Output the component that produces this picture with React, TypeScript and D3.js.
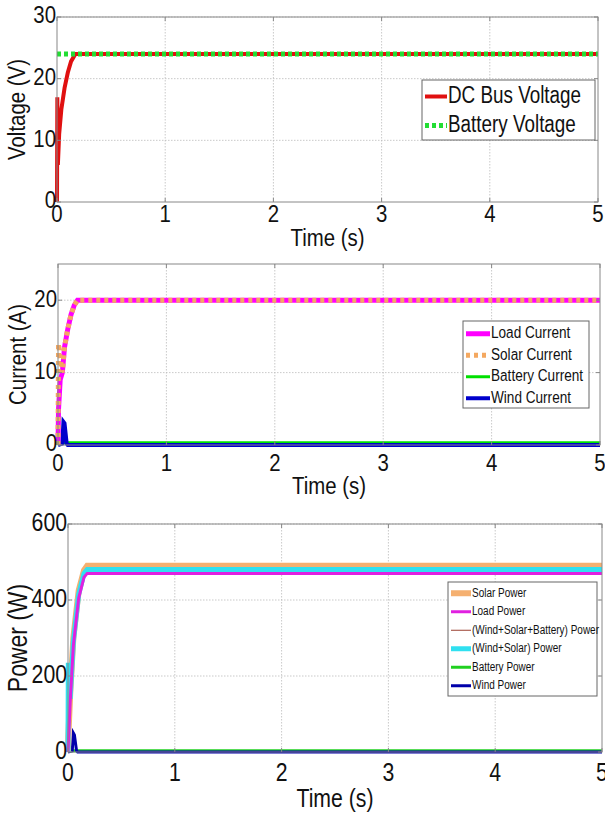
import React from "react";
import * as d3 from "d3";

// time axis ticks shared by all three panels
const timeTicks = [0, 1, 2, 3, 4, 5];

// panel 1: voltages
const voltTime = [0, 0.003, 0.008, 0.02, 0.04, 0.07, 0.1, 0.13, 0.17, 5];
const dcBusVoltage = [0, 17, 6, 11, 15, 18.5, 21, 22.8, 24, 24];
const batteryTime = [0, 5];
const batteryVoltage = [24, 24];
const voltTicks = [0, 10, 20, 30];

// panel 2: currents
const currTime = [0, 0.005, 0.02, 0.04, 0.06, 0.09, 0.12, 0.15, 0.18, 5];
const loadCurrent = [0, 5, 9, 10, 13.5, 16, 18, 19.3, 20, 20];
const solarCurrent = [0, 14, 12, 10, 13.5, 16, 18, 19.3, 20, 20];
const batteryCurrent = [0.3, 0.3, 0.3, 0.3, 0.3, 0.3, 0.3, 0.3, 0.3, 0.3];
const windTime = [0, 0.04, 0.05, 0.06, 0.08, 0.09, 5];
const windCurrent = [0, 0.2, 3.2, 3, 0.2, 0, 0];
const currTicks = [0, 10, 20];

// panel 3: powers
const powTime = [0, 0.003, 0.02, 0.05, 0.1, 0.15, 0.18, 5];
const solarPower = [0, 40, 150, 300, 425, 478, 490, 490];
const loadPower = [0, 20, 130, 280, 405, 460, 470, 470];
const totalPower = [0, 30, 145, 295, 420, 474, 485, 485];
const windSolarPower = [0, 235, 140, 290, 415, 470, 480, 480];
const batteryPower = [3, 3, 3, 3, 3, 3, 3, 3];
const windPower = [0, 3, 50, 45, 3, 0, 0];
const powTicks = [0, 200, 400, 600];

const FONT = "'Liberation Sans', Arial, sans-serif";

type Series = {
  x: number[];
  y: number[];
  color: string;
  width: number;
  dash?: string;
  label?: string;
};

// narrow text: the reference uses a condensed helvetica
const CText = ({ x, y, size, anchor = "start", sx = 0.85, rotate = 0, children }: any) => (
  <g transform={`translate(${x},${y}) rotate(${rotate}) scale(${sx},1)`}>
    <text x={0} y={0} fontSize={size} textAnchor={anchor} dominantBaseline="middle" fontFamily={FONT} fill="#111">
      {children}
    </text>
  </g>
);

type PanelProps = {
  top: number;
  bottom: number;
  left: number;
  right: number;
  yMax: number;
  yTicks: number[];
  yLabel: string;
  yLabelX: number;
  yLabelSize: number;
  series: Series[];
  legend: { x: number; y: number; w: number; h: number; fs: number; row: number; sample: number; sx: number };
  legendItems: Series[];
  tickSize: number;
  xTickY: number;
  xLabelY: number;
};

const Panel = (p: PanelProps) => {
  const x = d3.scaleLinear().domain([0, 5]).range([p.left, p.right]);
  const y = d3.scaleLinear().domain([0, p.yMax]).range([p.bottom, p.top]);
  const line = (s: Series) =>
    d3
      .line<number>()
      .x((_, i) => x(s.x[i]))
      .y((d) => y(d))(s.y) || "";
  const L = p.legend;
  return (
    <g>
      {/* grid */}
      {timeTicks.slice(1, -1).map((t) => (
        <line key={"gx" + t} x1={x(t)} x2={x(t)} y1={p.top} y2={p.bottom} stroke="#bbb" strokeWidth={0.8} strokeDasharray="1.5 1.5" />
      ))}
      {p.yTicks.slice(1).map((v) => (
        <line key={"gy" + v} x1={p.left} x2={p.right} y1={y(v)} y2={y(v)} stroke="#bbb" strokeWidth={0.8} strokeDasharray="1.5 1.5" />
      ))}
      {/* series */}
      {p.series.map((s, i) => (
        <path key={i} d={line(s)} fill="none" stroke={s.color} strokeWidth={s.width} strokeDasharray={s.dash} />
      ))}
      {/* box */}
      <rect x={p.left} y={p.top} width={p.right - p.left} height={p.bottom - p.top} fill="none" stroke="#888" strokeWidth={1} />
      {/* ticks */}
      {timeTicks.map((t) => (
        <g key={"tx" + t}>
          <line x1={x(t)} x2={x(t)} y1={p.bottom} y2={p.bottom - 4} stroke="#888" />
          <line x1={x(t)} x2={x(t)} y1={p.top} y2={p.top + 4} stroke="#888" />
          <CText x={x(t)} y={p.xTickY} size={p.tickSize} anchor="middle">
            {t}
          </CText>
        </g>
      ))}
      {p.yTicks.map((v) => (
        <g key={"ty" + v}>
          <line x1={p.left} x2={p.left + 4} y1={y(v)} y2={y(v)} stroke="#888" />
          <line x1={p.right} x2={p.right - 4} y1={y(v)} y2={y(v)} stroke="#888" />
          <CText x={p.left - 1} y={y(v)} size={p.tickSize} anchor="end">
            {v}
          </CText>
        </g>
      ))}
      <CText x={(p.left + p.right) / 2} y={p.xLabelY} size={p.tickSize} anchor="middle">
        Time (s)
      </CText>
      <CText x={p.yLabelX} y={(p.top + p.bottom) / 2} size={p.yLabelSize} anchor="middle" rotate={-90}>
        {p.yLabel}
      </CText>
      {/* legend */}
      <rect x={L.x} y={L.y} width={L.w} height={L.h} fill="#fff" stroke="#666" strokeWidth={1} />
      {p.legendItems.map((s, i) => {
        const cy = L.y + L.row * (i + 0.5) + 2;
        return (
          <g key={"lg" + i}>
            <line x1={L.x + 3} x2={L.x + 3 + L.sample} y1={cy} y2={cy} stroke={s.color} strokeWidth={s.width} strokeDasharray={s.dash} />
            <CText x={L.x + 4 + L.sample} y={cy} size={L.fs} sx={L.sx}>
              {s.label}
            </CText>
          </g>
        );
      })}
    </g>
  );
};

export default function App() {
  const dcBus: Series = { x: voltTime, y: dcBusVoltage, color: "#e01010", width: 4, label: "DC Bus Voltage" };
  const batV: Series = { x: batteryTime, y: batteryVoltage, color: "#22dd33", width: 5, dash: "4 3", label: "Battery Voltage" };

  const loadI: Series = { x: currTime, y: loadCurrent, color: "#ff00ff", width: 5, label: "Load Current" };
  const solarI: Series = { x: currTime, y: solarCurrent, color: "#f4a860", width: 5, dash: "4 4", label: "Solar Current" };
  const batI: Series = { x: currTime, y: batteryCurrent, color: "#00e000", width: 3, label: "Battery Current" };
  const windI: Series = { x: windTime, y: windCurrent, color: "#0000cc", width: 4, label: "Wind Current" };

  const solarP: Series = { x: powTime, y: solarPower, color: "#f5b070", width: 6, label: "Solar Power" };
  const loadP: Series = { x: powTime, y: loadPower, color: "#e020e0", width: 3, label: "Load Power" };
  const totalP: Series = { x: powTime, y: totalPower, color: "#9a4030", width: 1, label: "(Wind+Solar+Battery) Power" };
  const wsP: Series = { x: powTime, y: windSolarPower, color: "#30e0f0", width: 5, label: "(Wind+Solar) Power" };
  const batP: Series = { x: powTime, y: batteryPower, color: "#20d020", width: 3, label: "Battery Power" };
  const windP: Series = { x: windTime, y: windPower, color: "#0000aa", width: 3, label: "Wind Power" };

  return (
    <svg width={605} height={821} style={{ position: "absolute", left: 0, top: 0, background: "#fff" }}>
      <Panel
        top={17}
        bottom={202}
        left={57}
        right={598}
        yMax={30}
        yTicks={voltTicks}
        yLabel="Voltage (V)"
        yLabelX={19}
        yLabelSize={24}
        series={[dcBus, batV]}
        legend={{ x: 422, y: 80, w: 173, h: 60, fs: 23, row: 29, sample: 22, sx: 0.82 }}
        legendItems={[dcBus, batV]}
        tickSize={24}
        xTickY={216}
        xLabelY={240}
      />
      <Panel
        top={264}
        bottom={445}
        left={58}
        right={600}
        yMax={25}
        yTicks={currTicks}
        yLabel="Current (A)"
        yLabelX={20}
        yLabelSize={24}
        series={[batI, windI, loadI, solarI]}
        legend={{ x: 463, y: 321, w: 126, h: 87, fs: 17, row: 21.5, sample: 24, sx: 0.8 }}
        legendItems={[loadI, solarI, batI, windI]}
        tickSize={24}
        xTickY={465}
        xLabelY={488}
      />
      <Panel
        top={524}
        bottom={752}
        left={68}
        right={602}
        yMax={600}
        yTicks={powTicks}
        yLabel="Power (W)"
        yLabelX={20}
        yLabelSize={27}
        series={[batP, windP, solarP, totalP, wsP, loadP]}
        legend={{ x: 448, y: 582, w: 149, h: 114, fs: 13.5, row: 18.5, sample: 20, sx: 0.74 }}
        legendItems={[solarP, loadP, totalP, wsP, batP, windP]}
        tickSize={25}
        xTickY={774}
        xLabelY={800}
      />
    </svg>
  );
}
